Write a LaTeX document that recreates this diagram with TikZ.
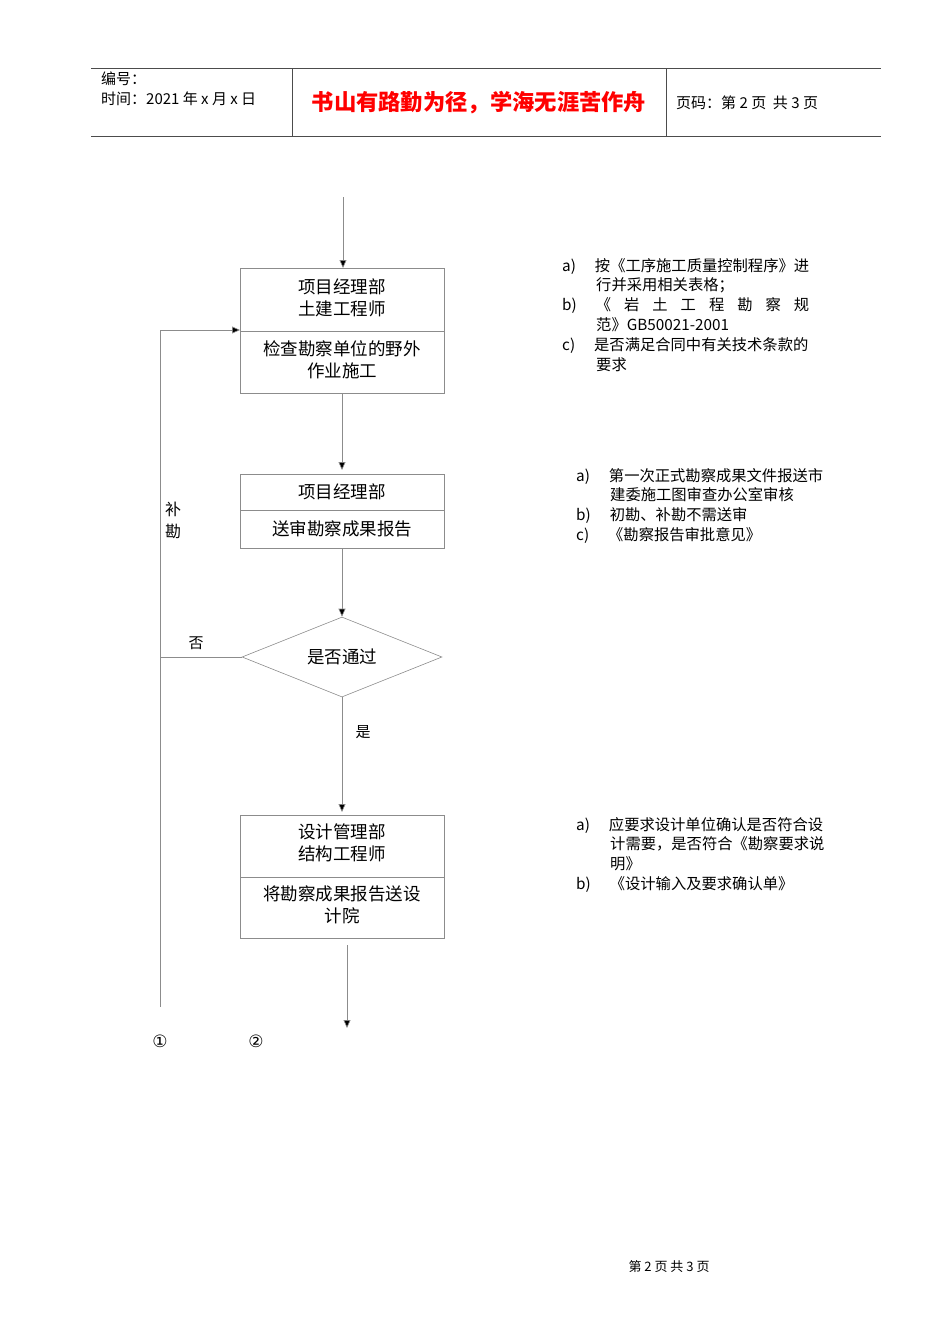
\documentclass[tikz,border=0pt]{standalone}
\usepackage{fontspec}
\setmainfont{Liberation Serif}
\newfontfamily\cjk{Noto Sans CJK SC}
\newfontfamily\djvfont{DejaVu Sans}
\usetikzlibrary{arrows.meta,shapes.geometric}
\begin{document}
\begin{tikzpicture}[x=1pt,y=-1pt,
 ln/.style={draw=black!45,line width=0.6pt},
 ar/.style={ln,-{Triangle[length=8pt,width=7pt,fill=black]}},
 t/.style={font=\cjk\fontsize{17.5}{21.5}\selectfont,align=center},
 nt/.style={font=\fontsize{15.3}{19.8}\selectfont\cjk,anchor=north west,align=left,inner sep=0pt}]
\useasboundingbox (0,0) rectangle (950,1344);
% header
\draw[black!70,line width=0.8pt] (91,68)--(881,68) (91,136)--(881,136) (292,68)--(292,136) (666,68)--(666,136);
\node[anchor=west,inner sep=0,font=\cjk\fontsize{15}{18}\selectfont] (h1) at (101,79) {编号：};
\node[anchor=west,inner sep=0,font=\cjk\fontsize{15}{18}\selectfont] (h2) at (101,99) {时间：2021 年 x 月 x 日};
\node[inner sep=0,font=\cjk\bfseries\fontsize{22.3}{25}\selectfont,text=red] (ti) at (479,103) {书山有路勤为径，学海无涯苦作舟};
\node[anchor=west,inner sep=0,font=\cjk\fontsize{15}{18}\selectfont] (h3) at (676,103) {页码：第 2 页\ \ 共 3 页};
% box1
\draw[ln] (240,268) rectangle (444,393) (240,331)--(444,331);
\node[t] (b1a) at (342,298) {项目经理部\\土建工程师};
\node[t] (b1b) at (342,360) {检查勘察单位的野外\\作业施工};
\coordinate (s0) at (343,197); \coordinate (e0) at (343,268);
\draw[ar] (s0)--(e0);
% box2
\draw[ln] (240,474) rectangle (444,548) (240,510)--(444,510);
\node[t] (b2a) at (342,492) {项目经理部};
\node[t] (b2b) at (342,529) {送审勘察成果报告};
\coordinate (s1) at (342,393); \coordinate (e1) at (342,470);
\draw[ar] (s1)--(e1);
% diamond
\node[diamond,draw=black!45,line width=0.6pt,minimum width=200pt,minimum height=80pt,aspect=2.5,inner sep=0,t] (d) at (342,657) {是否通过};
\coordinate (s2) at (342,548);
\draw[ar] (s2)--(d.north);
\coordinate (L) at (160,657); \coordinate (Lt) at (160,330); \coordinate (Lb) at (160,1007); \coordinate (b1l) at (240,330);
\draw[ln] (d.west)--(L);
\draw[ln] (Lt)--(Lb);
\draw[ar] (Lt)--(b1l);
\node[t,font=\cjk\fontsize{15}{22}\selectfont] (no) at (196,643) {否};
\node[t,font=\cjk\fontsize{16}{22}\selectfont] (bk) at (173,520) {补\\勘};
% box3
\draw[ln] (240,815) rectangle (444,938) (240,877)--(444,877);
\node[t] (b3a) at (342,843) {设计管理部\\结构工程师};
\node[t] (b3b) at (342,905) {将勘察成果报告送设\\计院};
\coordinate (e3) at (342,812);
\draw[ar] (d.south)--(e3);
\node[t,font=\cjk\fontsize{15}{18}\selectfont] (yes) at (363,732) {是};
\coordinate (s4) at (347,945); \coordinate (e4) at (347,1028);
\draw[ar] (s4)--(e4);
\node[font=\djvfont\fontsize{17}{20}\selectfont] (c1) at (160,1041) {①};
\node[font=\djvfont\fontsize{17}{20}\selectfont] (c2) at (256,1041) {②};
% notes
\node[nt] (n1) at (562,258) {a)\hspace{19pt}按《工序施工质量控制程序》进\\\hspace{34pt}行并采用相关表格；\\b)\hspace{19pt}《\hspace{13pt}岩\hspace{13pt}土\hspace{13pt}工\hspace{13pt}程\hspace{13pt}勘\hspace{13pt}察\hspace{13pt}规\\\hspace{34pt}范》GB50021-2001\\c)\hspace{19pt}是否满足合同中有关技术条款的\\\hspace{34pt}要求};
\node[nt] (n2) at (576,468) {a)\hspace{19pt}第一次正式勘察成果文件报送市\\\hspace{34pt}建委施工图审查办公室审核\\b)\hspace{19pt}初勘、补勘不需送审\\c)\hspace{19pt}《勘察报告审批意见》};
\node[nt] (n3) at (576,817) {a)\hspace{19pt}应要求设计单位确认是否符合设\\\hspace{34pt}计需要，是否符合《勘察要求说\\\hspace{34pt}明》\\b)\hspace{19pt}《设计输入及要求确认单》};
\node[font=\cjk\fontsize{13}{15}\selectfont] (ft) at (669,1267) {第 2 页 共 3 页};
\end{tikzpicture}
\end{document}
